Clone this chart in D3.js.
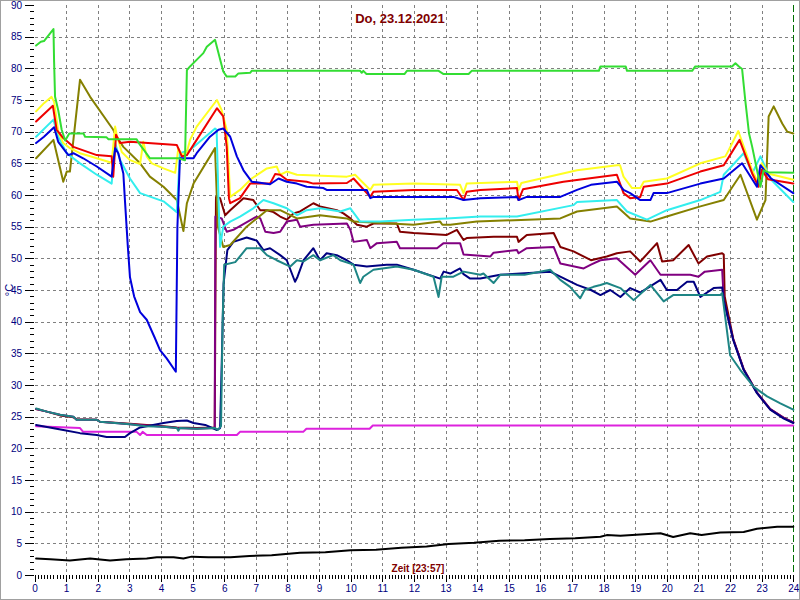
<!DOCTYPE html>
<html><head><meta charset="utf-8">
<script src="https://cdn.jsdelivr.net/npm/d3@7"></script>
<style>html,body{margin:0;padding:0;background:#fff;}svg{display:block;}</style>
</head><body>
<svg id="chart" width="800" height="600"></svg>
<script>
const title = "Do, 23.12.2021";
const xTitle = "Zeit [23:57]";
const yTitle = "°C";
const xTicks = [0,1,2,3,4,5,6,7,8,9,10,11,12,13,14,15,16,17,18,19,20,21,22,23,24];
const yTicks = [0,5,10,15,20,25,30,35,40,45,50,55,60,65,70,75,80,85,90];
const nowHour = 24;

const green = [[0.05,83.6],[0.2,84.2],[0.3,84.3],[0.6,86.2],[0.62,81],[0.65,75.5],[0.75,73.4],[0.86,70.3],[0.97,68.6],[1.1,69.7],[1.55,69.7],[1.6,69.2],[2.28,69.1],[2.34,68.8],[3.23,68.8],[3.3,68.2],[3.55,66.5],[3.65,65.8],[4.55,65.8],[4.76,65.5],[4.82,79.7],[4.92,80.3],[5.08,81.1],[5.34,82.4],[5.45,83.4],[5.71,84.5],[5.97,79.5],[6.08,78.7],[6.35,78.7],[6.45,79.2],[6.82,79.3],[6.87,79.6],[10.3,79.6],[10.35,79.3],[10.4,79.6],[10.5,79.1],[11.7,79.1],[11.78,79.6],[12.78,79.6],[12.94,79.1],[13.73,79.1],[13.83,79.6],[17.85,79.6],[17.9,80.3],[18.7,80.3],[18.74,79.6],[20.8,79.6],[20.9,80.3],[22.06,80.3],[22.17,80.8],[22.28,80.3],[22.38,79.9],[22.48,75],[22.6,69.7],[22.7,67.6],[22.96,61.3],[23.06,63.9],[23.2,63.6],[24,63.5]];
const yellow = [[0.05,73.2],[0.3,74.5],[0.54,75.5],[0.62,74.7],[0.75,70],[0.91,68.2],[1.12,67.4],[1.44,66.6],[1.97,65.8],[2.44,65.1],[2.55,70.8],[2.6,69.5],[2.76,66.8],[3.02,65.5],[3.34,64.9],[3.44,68.4],[3.55,66.1],[3.71,65],[4.08,64.2],[4.45,63.5],[4.55,67.4],[4.66,66.3],[4.82,66.8],[4.92,68.7],[5.13,70.8],[5.77,75],[5.92,73.4],[6.08,70.3],[6.19,59.7],[6.5,60.8],[6.87,62.6],[7.35,64.2],[7.66,64.5],[7.77,63.2],[7.98,63.7],[8.3,63.2],[9.88,62.9],[10.14,63.2],[10.62,60.8],[10.72,61.6],[11.99,61.8],[13.46,61.6],[13.57,60.3],[13.67,61.8],[15.26,62.1],[15.31,60.8],[15.4,61.9],[17.16,63.9],[18.42,64.7],[18.52,64.7],[18.63,62.9],[18.9,61.1],[19.16,61.1],[19.27,62.1],[20.0,62.6],[21.06,65],[21.85,66.1],[21.96,67.1],[22.26,70.1],[22.7,63.9],[22.9,61.8],[23.0,65],[23.2,63.4],[24,62.4]];
const red = [[0.05,71.6],[0.58,74.1],[0.7,70.3],[0.91,69],[1.23,67.6],[1.97,66.3],[2.44,66.1],[2.49,62.9],[2.58,69.5],[2.71,68.2],[3.02,68.4],[4.5,67.9],[4.66,66.1],[4.82,66.3],[5.13,68.7],[5.77,73.7],[5.97,72.4],[6.08,67.6],[6.15,59.5],[6.19,58.7],[6.5,59.5],[6.82,61.8],[7.45,61.8],[7.61,63.3],[7.77,63.2],[7.98,62.4],[8.61,62.1],[8.82,61.8],[9.88,61.9],[10.09,62.6],[10.62,59.7],[10.72,60.5],[11.99,60.8],[13.36,60.8],[13.57,59.2],[13.67,60.5],[14.1,60.8],[15.26,61.1],[15.31,59.2],[15.45,60.9],[16.73,62.1],[18.42,63.2],[18.63,60.3],[18.84,59.5],[19.16,59.7],[19.27,61.3],[20.0,61.8],[21.06,63.7],[21.8,64.7],[22.0,66.3],[22.3,68.7],[22.7,63.4],[22.9,61.3],[23.0,64],[23.2,62.5],[24,61.8]];
const cyan = [[0.05,69.2],[0.6,71.9],[0.75,69.2],[1.02,66.6],[1.44,65],[1.97,63.2],[2.44,61.8],[2.55,68.2],[2.71,65.5],[3.02,62.6],[3.34,60.3],[4.08,59],[4.5,57.3],[4.6,66.6],[4.92,67.1],[5.71,70.5],[5.76,70.3],[5.82,59.2],[5.87,51.8],[5.97,55],[6.19,55.8],[6.5,56.6],[6.92,57.9],[7.24,59.2],[7.56,58.7],[7.98,57.9],[8.3,56.8],[8.61,57.6],[9.03,57.9],[9.67,57.4],[9.99,57.9],[10.3,55.8],[10.93,55.8],[11.99,56.1],[13.04,56.3],[14.1,56.6],[15.26,56.6],[17.05,58.4],[17.16,58.9],[18.42,59.2],[18.74,57.4],[19.37,56.1],[20.0,57.6],[21.06,59.2],[21.69,60.5],[21.8,63.2],[22.43,66.6],[22.7,63.4],[22.96,66.1],[23.3,62.4],[24,58.9]];
const blue = [[0.05,68.2],[0.3,69.2],[0.62,70.7],[0.75,68.4],[1.07,66.3],[1.23,66.6],[1.54,65.8],[1.97,64.5],[2.44,62.9],[2.55,67.4],[2.65,66.6],[2.81,63.4],[2.86,59.2],[2.95,52],[3.02,47],[3.15,44],[3.34,41.5],[3.55,40.3],[3.8,37.5],[3.97,35.5],[4.18,34.2],[4.47,32.1],[4.52,55],[4.6,65.8],[5.03,65.8],[5.13,66.6],[5.55,69.2],[5.82,70.3],[5.97,70.5],[6.19,69.2],[6.4,66.1],[6.61,63.9],[6.87,62.1],[7.03,62],[7.45,61.7],[7.72,62.6],[7.98,62.1],[8.3,61.8],[8.61,61.3],[9.14,61.1],[9.24,60.8],[10.51,60.8],[10.62,59.5],[10.72,59.7],[13.25,59.7],[13.57,59.2],[14.1,59.5],[15.26,59.7],[15.31,59.2],[15.57,59.7],[16.63,59.7],[17.16,60.8],[17.6,61.6],[18.42,62.1],[18.63,60.8],[18.84,60.3],[19.16,59.2],[19.48,59.2],[19.58,60.3],[20.0,60.3],[21.06,61.8],[21.8,62.6],[22.38,65],[22.85,61.3],[22.96,64.7],[23.3,62.6],[24,60.3]];
const olive = [[0.05,65.8],[0.6,68.7],[0.91,62.1],[1.02,63.7],[1.12,63.7],[1.44,78.2],[1.76,75.5],[2.49,70.3],[2.6,69.2],[2.81,67.6],[3.34,65],[3.65,62.9],[4.08,61.3],[4.5,59.2],[4.71,54.3],[4.82,58.7],[5.03,61.8],[5.71,67.4],[5.8,55],[5.97,51.8],[6.19,52.1],[6.71,55],[7.35,57.6],[7.77,57.6],[8.3,56.3],[9.03,56.8],[9.88,56.3],[10.09,55.8],[11.99,55.3],[12.83,55.8],[12.9,55.3],[13.15,55.3],[13.99,55.8],[16.63,56.3],[17.16,57.4],[18.42,58.2],[18.84,56.3],[19.48,55.8],[20.0,56.6],[21.06,58.2],[21.8,59.2],[22.33,63.2],[22.85,56.1],[23.12,59.2],[23.22,72.4],[23.38,74],[23.65,71.3],[23.81,70],[24,69.7]];
const maroon = [[0.05,26.2],[0.39,25.8],[0.81,25.2],[1.23,24.9],[1.33,24.6],[1.97,24.5],[2.07,24.2],[3.02,23.9],[4.08,23.5],[4.5,23.3],[5.13,23.2],[5.7,23.3],[5.74,59.7],[5.87,59.5],[6.03,56.8],[6.19,57.6],[6.61,59.5],[6.92,59.2],[7.14,57.6],[7.35,57.6],[7.56,57.3],[7.77,56.6],[7.98,56.1],[8.19,57.1],[8.4,57.4],[8.82,58.7],[9.03,58.2],[9.56,57.6],[9.77,57.1],[9.99,56.3],[10.2,55.3],[10.51,55],[10.72,55.5],[11.46,55.5],[11.56,54.2],[11.99,54],[13.04,53.7],[13.36,54.5],[13.57,52.9],[13.67,53.2],[14.52,53.4],[15.26,53.4],[15.31,52.6],[15.57,53.7],[16.42,54],[16.63,51.8],[17.05,51.1],[17.6,49.7],[18.1,50.3],[18.42,50.8],[18.84,51.1],[19.16,49.5],[19.69,52.4],[19.85,49.5],[20.2,49.7],[20.69,52.1],[21.0,49.2],[21.27,50.3],[21.75,50.8],[21.8,50.6],[21.83,44],[22.1,37.3],[22.43,32.5],[22.85,28.8],[23.27,26.2],[23.7,24.8],[24,24.1]];
const purple = [[0.05,26.2],[0.39,25.8],[0.81,25.3],[1.23,25],[1.33,24.5],[1.97,24.5],[2.07,24.2],[3.02,23.8],[4.08,23.4],[4.5,23.2],[5.13,23.1],[5.7,23.2],[5.72,56.6],[5.92,56.3],[6.08,54.2],[6.29,54.5],[7.03,56.6],[7.14,56.3],[7.3,54.2],[7.56,54],[7.77,54.2],[7.98,55.8],[8.3,56.1],[8.4,55],[8.82,55.3],[9.88,55.5],[9.99,54.5],[10.09,52.6],[10.51,52.9],[10.62,51.6],[10.83,52.4],[11.46,52.6],[11.56,51.6],[12.73,51.6],[12.94,52.4],[13.46,52.4],[13.57,50.6],[14.42,50.3],[14.52,50.9],[15.26,51.3],[15.31,50.8],[15.57,51.6],[16.42,51.8],[16.63,49.2],[17.37,48.4],[17.6,49],[17.9,49.7],[18.42,50],[19.0,47.4],[19.48,49.7],[19.8,47.4],[20.74,47.4],[21.0,47.1],[21.2,47.9],[21.75,48.2],[21.8,43.4],[22.1,37.2],[22.43,32.5],[22.85,28.8],[23.27,26.2],[23.7,24.8],[24,24.1]];
const navy = [[0.05,23.7],[0.91,22.9],[1.44,22.4],[1.97,22.1],[2.28,21.8],[2.86,21.8],[3.02,22.4],[3.34,23.3],[4.08,24],[4.5,24.3],[4.82,24.4],[5.03,24],[5.4,23.7],[5.77,22.9],[5.87,23.2],[5.93,35],[5.98,46],[6.1,51.3],[6.29,52.6],[6.71,53.3],[7.03,52.8],[7.24,51.3],[7.45,51.6],[7.77,50.5],[7.98,49.7],[8.24,46.3],[8.32,47.1],[8.51,49.7],[8.82,51.6],[9.03,49.7],[9.24,50.8],[9.56,50.5],[9.88,49.7],[10.09,49],[10.51,48.7],[11.14,49],[11.46,49],[11.99,48.2],[12.83,46.8],[12.94,47.9],[13.15,47.6],[13.46,48.4],[13.57,47.5],[13.78,46.8],[14.1,46.8],[14.73,47.4],[16.31,47.9],[16.63,47.1],[17.16,45.8],[17.6,45],[17.9,44.2],[18.21,45],[18.53,43.9],[18.84,45.3],[19.16,44.6],[19.8,46.6],[20.0,45],[20.32,45],[20.64,46.3],[20.85,46.3],[21.06,43.9],[21.48,45.3],[21.75,45.4],[21.8,43.4],[22.1,37.1],[22.43,32.4],[22.85,28.7],[23.27,26.1],[23.7,24.7],[24,24]];
const teal = [[0.05,26.3],[0.39,25.8],[0.81,25.3],[1.23,25],[1.33,24.5],[1.97,24.5],[2.07,24.2],[3.02,23.8],[3.5,23.5],[4.08,23.4],[4.5,23.2],[4.55,22.8],[4.6,23.2],[5.13,23.1],[5.71,23.2],[5.8,22.9],[5.9,23.5],[5.95,40],[6.0,49],[6.35,49.4],[6.71,51.6],[7.14,51.6],[7.35,50.5],[7.66,49.7],[8.09,48.7],[8.3,49.7],[8.51,49.5],[8.82,50.5],[9.03,49.7],[9.45,50.5],[9.67,49.7],[10.09,49],[10.3,46.1],[10.4,47.1],[10.72,48.2],[11.46,48.7],[11.99,48.2],[12.62,47.1],[12.78,43.9],[12.88,47.1],[13.25,47.1],[13.57,47.9],[14.1,47.4],[14.2,47.6],[14.52,46.1],[14.73,47.4],[15.5,47.4],[16.31,48.2],[16.63,46.6],[16.94,45.5],[17.26,43.7],[17.4,45],[17.68,45.5],[17.9,45.8],[18.1,46.1],[18.53,45.3],[18.95,43.4],[19.48,45.8],[19.9,43.2],[20.2,44.2],[21.69,44.2],[21.75,44.5],[22.0,34.7],[22.32,32.4],[22.75,29.7],[23.17,28.2],[23.59,27.1],[24,26.1]];
const magenta = [[0.05,23.5],[1.44,23.2],[1.54,22.6],[3.23,22.6],[3.34,22.1],[3.42,22.6],[3.55,22.1],[6.4,22.1],[6.5,22.6],[8.5,22.6],[8.6,23.1],[10.6,23.1],[10.7,23.6],[24,23.6]];
const black = [[0.05,2.6],[0.5,2.5],[1.12,2.3],[1.76,2.6],[2.39,2.3],[2.9,2.5],[3.55,2.6],[3.87,2.8],[4.4,2.8],[4.71,2.6],[4.97,2.9],[5.5,2.8],[6.2,2.8],[6.8,3.0],[7.5,3.1],[8.4,3.5],[9.2,3.6],[10,3.9],[10.8,4.0],[11.6,4.3],[12.4,4.5],[13.1,4.9],[13.9,5.1],[14.7,5.4],[15.5,5.5],[16.3,5.7],[17.1,5.8],[17.9,6.05],[18.1,6.3],[18.53,6.2],[19.16,6.4],[19.8,6.6],[20.2,6.0],[20.74,6.6],[21.1,6.3],[21.69,6.7],[22.43,6.8],[22.85,7.3],[23.49,7.6],[24,7.6]];

const seriesList = [
  {data: black, color: "#000000"},
  {data: magenta, color: "#dd22dd"},
  {data: maroon, color: "#800000"},
  {data: purple, color: "#800080"},
  {data: navy, color: "#000080"},
  {data: teal, color: "#1e8585"},
  {data: olive, color: "#858000"},
  {data: cyan, color: "#33eeee"},
  {data: yellow, color: "#ffff22"},
  {data: red, color: "#ee0000"},
  {data: blue, color: "#0000dd"},
  {data: green, color: "#33dd33"}
];

const svg = d3.select("#chart");
const x = d3.scaleLinear().domain([0,24]).range([34.5,793.3]);
const y = d3.scaleLinear().domain([0,90]).range([575,5]);

svg.append("rect").attr("x",0.5).attr("y",0.5).attr("width",799).attr("height",599)
  .attr("fill","#fff").attr("stroke","#a0a0a0");

// grid
const grid = svg.append("g").attr("stroke","#808080").attr("stroke-dasharray","3,3").attr("shape-rendering","crispEdges");
grid.selectAll("line.v").data(xTicks.filter(d => d>0 && d<24)).join("line")
  .attr("x1",d=>Math.round(x(d))+0.5).attr("x2",d=>Math.round(x(d))+0.5).attr("y1",5).attr("y2",575);
grid.selectAll("line.h").data(yTicks.filter(d => d>0 && d<90)).join("line")
  .attr("y1",d=>Math.round(y(d))+0.5).attr("y2",d=>Math.round(y(d))+0.5).attr("x1",35).attr("x2",793);

// now marker
svg.append("line").attr("x1",Math.round(x(nowHour))+0.5).attr("x2",Math.round(x(nowHour))+0.5)
  .attr("y1",5).attr("y2",575).attr("stroke","#007000").attr("stroke-dasharray","7,3")
  .attr("shape-rendering","crispEdges");

// y axis
const yMinor = d3.range(0,91,1);
const yAxis = d3.axisLeft(y).tickValues(yTicks).tickSize(9).tickSizeOuter(0).tickPadding(3);
const yg = svg.append("g").attr("transform","translate(34,0)").call(yAxis);
yg.select(".domain").remove();
svg.append("g").attr("transform","translate(34,0)")
  .call(d3.axisLeft(y).tickValues(yMinor).tickSize(4).tickFormat("").tickSizeOuter(0))
  .select(".domain").remove();

// x axis
const xMinor = d3.range(0,241,1).map(d=>d/10);
const xAxis = d3.axisBottom(x).tickValues(xTicks).tickSize(7).tickSizeOuter(0).tickPadding(3);
const xg = svg.append("g").attr("transform","translate(0,575)").call(xAxis);
xg.select(".domain").remove();
svg.append("g").attr("transform","translate(0,575)")
  .call(d3.axisBottom(x).tickValues(xMinor).tickSize(4).tickFormat("").tickSizeOuter(0))
  .select(".domain").remove();

svg.selectAll(".tick line").attr("stroke","#000").attr("shape-rendering","crispEdges");
svg.selectAll(".tick text").attr("fill","#000080").style("font-family","'Liberation Sans', Arial, sans-serif").style("font-size","10px");

// lines
const line = d3.line().x(d=>x(d[0])).y(d=>y(d[1]));
svg.append("g").selectAll("path").data(seriesList).join("path")
  .attr("d",d=>line(d.data)).attr("fill","none").attr("stroke",d=>d.color)
  .attr("stroke-width",2).attr("stroke-linejoin","round").attr("stroke-linecap","round");

// texts
svg.append("text").attr("x",400).attr("y",23).attr("text-anchor","middle")
  .attr("fill","#800000").style("font-family","'Liberation Sans', Arial, sans-serif")
  .style("font-size","13px").style("font-weight","bold").text(title);
svg.append("text").attr("x",418).attr("y",572).attr("text-anchor","middle")
  .attr("fill","#800000").style("font-family","'Liberation Sans', Arial, sans-serif")
  .style("font-size","10px").style("font-weight","bold").text(xTitle);
svg.append("text").attr("transform","translate(13,290) rotate(-90)").attr("text-anchor","middle")
  .attr("fill","#000080").style("font-family","'Liberation Sans', Arial, sans-serif")
  .style("font-size","11px").text(yTitle);
</script>
</body></html>
